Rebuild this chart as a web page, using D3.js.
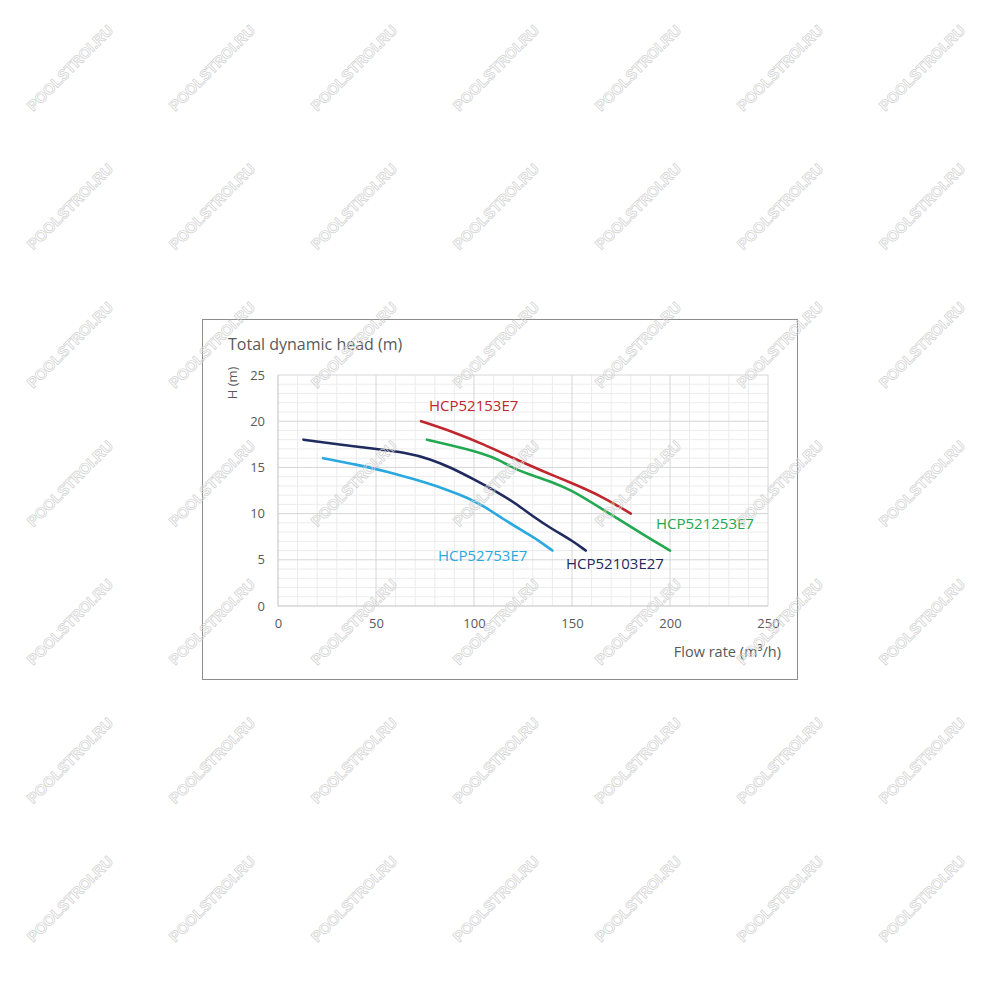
<!DOCTYPE html>
<html>
<head>
<meta charset="utf-8">
<script src="https://cdn.jsdelivr.net/npm/d3@7"></script>
<style>
  body { margin: 0; background: #fff; }
  svg { display: block; font-family: "Open Sans", "Noto Sans", sans-serif; }
</style>
</head>
<body>
<svg id="chart" width="1000" height="1000"></svg>
<script>
// pump curves: [flow m3/h, head m]
const hcp52753 = [[23,16],[40,15.3],[55,14.6],[70,13.7],[85,12.7],[97,11.7],[105,10.8],[115,9.4],[125,8.1],[133,7.1],[140,6]];
const hcp52103 = [[13,18],[30,17.5],[50,17],[65,16.6],[78,15.9],[88,15],[100,13.7],[113,12.2],[122,11],[130,9.7],[140,8.3],[150,7.1],[157,6]];
const hcp52153 = [[73,20],[90,18.8],[105,17.5],[120,16],[135,14.6],[150,13.3],[165,11.9],[180,10]];
const hcp521253 = [[76,18],[90,17.3],[105,16.5],[113,15.8],[120,14.9],[130,14.1],[140,13.4],[150,12.5],[160,11.2],[170,9.9],[185,7.9],[200,6]];

const xTicks = [0, 50, 100, 150, 200, 250];
const yTicks = [0, 5, 10, 15, 20, 25];

const series = [
  {name: 'HCP52753E7', data: hcp52753, color: '#29a9df', label: [438, 561]},
  {name: 'HCP52103E27', data: hcp52103, color: '#1f2a5e', label: [566, 569]},
  {name: 'HCP52153E7', data: hcp52153, color: '#c0262d', label: [429, 411]},
  {name: 'HCP521253E7', data: hcp521253, color: '#22a851', label: [656, 529]}
];

const svg = d3.select('#chart');
const margin = {left: 278, right: 232, top: 375, bottom: 394};
const width = 1000 - margin.left - margin.right;
const height = 1000 - margin.top - margin.bottom;

const x = d3.scaleLinear().domain([0, 250]).range([0, width]);
const y = d3.scaleLinear().domain([0, 25]).range([height, 0]);

// outer frame
svg.append('rect')
  .attr('x', 202.5).attr('y', 319.5)
  .attr('width', 595).attr('height', 360)
  .attr('fill', '#fff').attr('stroke', '#8c8c8c');

const g = svg.append('g').attr('transform', `translate(${margin.left},${margin.top})`);

// minor grid
g.append('g').selectAll('line')
  .data(d3.range(0, 251, 10).filter(v => v % 50 !== 0))
  .join('line')
  .attr('x1', d => x(d)).attr('x2', d => x(d))
  .attr('y1', 0).attr('y2', height)
  .attr('stroke', '#ececec');
g.append('g').selectAll('line')
  .data(d3.range(0, 26, 1).filter(v => v % 5 !== 0))
  .join('line')
  .attr('y1', d => y(d)).attr('y2', d => y(d))
  .attr('x1', 0).attr('x2', width)
  .attr('stroke', '#ececec');

// major grid
g.append('g').selectAll('line')
  .data(xTicks)
  .join('line')
  .attr('x1', d => x(d)).attr('x2', d => x(d))
  .attr('y1', 0).attr('y2', height)
  .attr('stroke', d => d === 0 ? '#bfbfbf' : '#d6d6d6');
g.append('g').selectAll('line')
  .data(yTicks)
  .join('line')
  .attr('y1', d => y(d)).attr('y2', d => y(d))
  .attr('x1', 0).attr('x2', width)
  .attr('stroke', d => d === 0 ? '#bfbfbf' : '#d6d6d6');

// axes (labels only)
const yAxis = g.append('g')
  .call(d3.axisLeft(y).tickValues(yTicks).tickSize(0).tickPadding(13));
const xAxis = g.append('g')
  .attr('transform', `translate(0,${height})`)
  .call(d3.axisBottom(x).tickValues(xTicks).tickSize(0).tickPadding(13));
[xAxis, yAxis].forEach(a => {
  a.select('.domain').remove();
  a.selectAll('text').attr('fill', '#595959').style('font-size', '13px')
    .style('font-family', '"Open Sans", sans-serif');
});

// curves
const line = d3.line()
  .x(d => x(d[0]))
  .y(d => y(d[1]))
  .curve(d3.curveBasis);

g.append('g').selectAll('path')
  .data(series)
  .join('path')
  .attr('d', d => line(d.data))
  .attr('fill', 'none')
  .attr('stroke', d => d.color)
  .attr('stroke-width', 2.6)
  .attr('stroke-linecap', 'round');

// series labels
svg.append('g').selectAll('text')
  .data(series)
  .join('text')
  .attr('x', d => d.label[0]).attr('y', d => d.label[1])
  .attr('fill', d => d.color)
  .style('font-size', '15px')
  .text(d => d.name);

// titles
svg.append('text')
  .attr('x', 228).attr('y', 350)
  .attr('fill', '#595959')
  .style('font-size', '16px')
  .text('Total dynamic head (m)');

svg.append('text')
  .attr('transform', 'translate(237,383) rotate(-90)')
  .attr('text-anchor', 'middle')
  .attr('fill', '#595959')
  .style('font-size', '13px')
  .text('H (m)');

svg.append('text')
  .attr('x', 781).attr('y', 657)
  .attr('text-anchor', 'end')
  .attr('fill', '#595959')
  .style('font-size', '14.5px')
  .text('Flow rate (m³/h)');

// watermark grid
const wmCols = d3.range(7).map(i => 70 + i * 142);
const wmRows = d3.range(7).map(i => 68 + i * 138.5);
const wm = svg.append('g');
wmRows.forEach(cy => wmCols.forEach(cx => {
  wm.append('text')
    .attr('transform', `translate(${cx},${cy}) rotate(-45)`)
    .attr('text-anchor', 'middle')
    .attr('dy', '0.35em')
    .attr('fill', 'none')
    .attr('stroke', '#d0d0d0')
    .attr('stroke-width', 0.7)
    .style('font-size', '15px')
    .style('font-family', '"Liberation Sans", sans-serif')
    .style('font-weight', 'bold')
    .text('POOLSTROI.RU');
}));
</script>
</body>
</html>
